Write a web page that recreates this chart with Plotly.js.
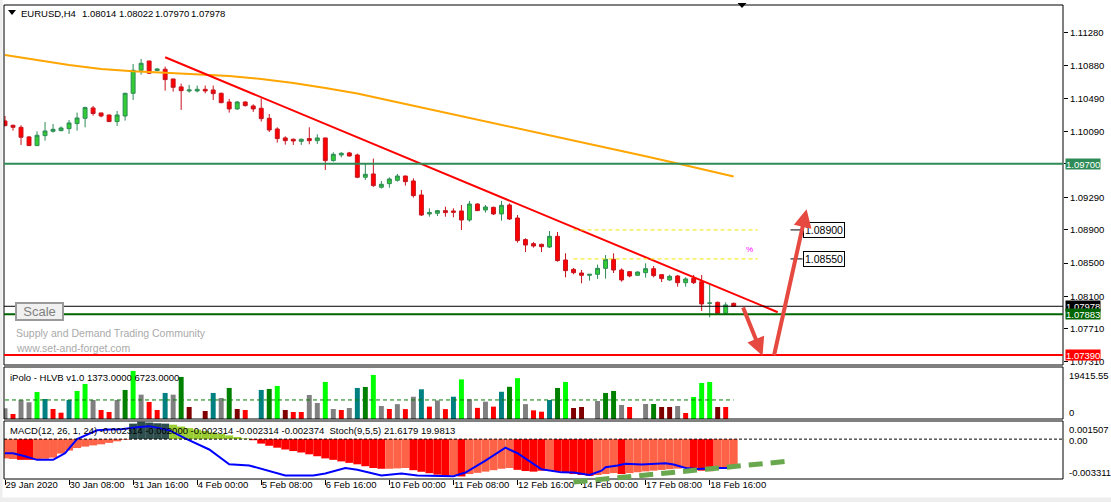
<!DOCTYPE html>
<html><head><meta charset="utf-8">
<script src="https://cdn.plot.ly/plotly-3.0.1.min.js"></script>
<style>html,body{margin:0;padding:0;background:#fff;overflow:hidden}#chart{width:1111px;height:502px}</style>
</head><body><div id="chart"></div>
<script>
// ---------- DATA ----------
const tickIdx = [0,8,16,24,32,40,48,56,64,72,80,88];
const tickLabels = ['29 Jan 2020','30 Jan 08:00','31 Jan 16:00','4 Feb 00:00','5 Feb 08:00','6 Feb 16:00','10 Feb 00:00','11 Feb 08:00','12 Feb 16:00','14 Feb 00:00','17 Feb 08:00','18 Feb 16:00'];
const priceTicks = [1.11280,1.10880,1.10490,1.10090,1.09700,1.09290,1.08900,1.08500,1.08100,1.07710,1.07310];
const symbolName = 'EURUSD,H4';
const lastOHLC = ['1.08014','1.08022','1.07970','1.07978'];

const open = [1.10216,1.10164,1.10139,1.10023,1.09918,1.10039,1.10091,1.10099,1.10123,1.10184,
1.10248,1.10373,1.10313,1.10288,1.10208,1.10276,1.10550,1.10828,1.10940,1.10824,
1.10840,1.10723,1.10627,1.10578,1.10578,1.10598,1.10590,1.10550,1.10445,1.10361,
1.10445,1.10397,1.10369,1.10248,1.10119,1.10011,1.09995,1.09970,1.10003,1.09978,
1.10011,1.09737,1.09805,1.09830,1.09805,1.09536,1.09576,1.09415,1.09459,1.09499,
1.09551,1.09491,1.09322,1.09093,1.09101,1.09133,1.09129,1.09129,1.09020,1.09213,
1.09141,1.09173,1.09093,1.09201,1.09044,1.08783,1.08734,1.08726,1.08694,1.08823,
1.08537,1.08424,1.08380,1.08352,1.08364,1.08436,1.08545,1.08416,1.08396,1.08352,
1.08384,1.08432,1.08360,1.08296,1.08344,1.08263,1.08316,1.08275,1.08014,1.08026,
1.07893,1.08014];
const high = [1.10276,1.10170,1.10164,1.10035,1.10091,1.10204,1.10180,1.10150,1.10228,1.10317,
1.10389,1.10397,1.10313,1.10290,1.10337,1.10555,1.10904,1.10965,1.10940,1.10852,
1.10872,1.10723,1.10667,1.10651,1.10643,1.10643,1.10643,1.10558,1.10482,1.10457,
1.10453,1.10417,1.10490,1.10300,1.10139,1.10031,1.10003,1.10003,1.10139,1.10055,
1.10011,1.09838,1.09838,1.09842,1.09822,1.09705,1.09761,1.09491,1.09535,1.09576,
1.09555,1.09523,1.09382,1.09161,1.09141,1.09181,1.09161,1.09201,1.09250,1.09221,
1.09201,1.09181,1.09250,1.09221,1.09080,1.08799,1.08754,1.08734,1.08887,1.08875,
1.08618,1.08441,1.08416,1.08364,1.08481,1.08597,1.08618,1.08436,1.08404,1.08400,
1.08497,1.08465,1.08360,1.08360,1.08356,1.08328,1.08356,1.08356,1.08235,1.08034,
1.08026,1.08022];
const low = [1.10150,1.10099,1.09926,1.09915,1.09915,1.09978,1.10075,1.10091,1.10059,1.10099,
1.10139,1.10280,1.10260,1.10205,1.10156,1.10220,1.10470,1.10775,1.10783,1.10820,
1.10582,1.10570,1.10349,1.10558,1.10562,1.10550,1.10470,1.10429,1.10317,1.10349,
1.10389,1.10325,1.10208,1.10083,1.09954,1.09930,1.09926,1.09926,1.09934,1.09938,
1.09624,1.09725,1.09777,1.09785,1.09524,1.09504,1.09420,1.09400,1.09410,1.09483,
1.09435,1.09290,1.09068,1.09060,1.09068,1.09060,1.09052,1.08899,1.09000,1.09129,
1.09109,1.09080,1.09012,1.09020,1.08746,1.08634,1.08686,1.08634,1.08682,1.08517,
1.08328,1.08364,1.08255,1.08288,1.08308,1.08312,1.08380,1.08275,1.08328,1.08348,
1.08324,1.08328,1.08271,1.08283,1.08215,1.08215,1.08247,1.07921,1.07845,1.07893,
1.07893,1.07970];
const close = [1.10160,1.10139,1.10019,1.09918,1.10043,1.10095,1.10115,1.10131,1.10192,1.10252,
1.10377,1.10305,1.10276,1.10208,1.10288,1.10550,1.10828,1.10912,1.10792,1.10844,
1.10715,1.10622,1.10582,1.10590,1.10598,1.10578,1.10546,1.10437,1.10361,1.10445,
1.10401,1.10361,1.10244,1.10107,1.10003,1.09978,1.09974,1.09995,1.09978,1.10011,
1.09737,1.09813,1.09826,1.09793,1.09536,1.09572,1.09435,1.09451,1.09515,1.09551,
1.09483,1.09314,1.09080,1.09109,1.09133,1.09109,1.09113,1.09020,1.09213,1.09133,
1.09177,1.09093,1.09197,1.09032,1.08771,1.08718,1.08706,1.08698,1.08823,1.08529,
1.08408,1.08384,1.08352,1.08364,1.08436,1.08545,1.08416,1.08296,1.08344,1.08392,
1.08432,1.08348,1.08312,1.08340,1.08263,1.08308,1.08263,1.08006,1.08018,1.07893,
1.07994,1.07978];

const maIdx = [0,4,8,12,16,20,24,28,32,36,40,44,48,52,56,60,64,68,72,76,80,84,88,91];
const maVal = [1.11012,1.10952,1.10892,1.10843,1.10816,1.10799,1.10783,1.10759,1.10723,1.10674,1.10614,1.10548,1.10463,1.10379,1.10294,1.10216,1.10131,1.10047,1.09962,1.09874,1.09789,1.09702,1.09612,1.09545];

const trendIdx = [20, 96.5];
const trendVal = [1.10985, 1.07906];

const levelPrices = [1.09700, 1.07978, 1.07883, 1.07390];
const levelLabels = ['1.09700','1.07978','1.07883','1.07390'];
const zonePrices = [1.08900, 1.08550];
const zoneLabels = ['1.08900','1.08550'];
const zoneStartIdx = 71, zoneEndIdx = 94;

const volume = [4330,2020,7690,6760,10920,8090,4050,2550,7690,11330,
14160,7690,3640,2830,7690,11730,19415,9830,6880,3640,
10520,9830,16990,4850,0,3240,10520,8490,12540,4050,
3640,0,11730,12140,13350,3640,2830,2830,9710,6470,
14970,4050,3640,4450,12540,12940,17800,5260,4050,6000,
4000,9000,12000,5000,7500,4000,9000,16000,8000,4500,
7000,5000,11000,13000,16500,6000,3500,2950,7690,12540,
14970,4450,4850,0,7280,10520,11330,5660,4850,0,
6070,6070,4850,4850,5260,2430,8900,14560,14970,4850,
4850,0];
const volClass = ['g','r','g','g','L','t','r','r','t','L',
'L','g','r','r','g','G','L','g','r','r',
't','g','G','m','x','m','t','g','G','m',
'r','x','t','G','L','m','r','r','g','g',
'L','g','r','g','t','G','L','g','r','g',
'r','g','t','r','g','r','t','L','g','r',
'g','r','t','G','L','g','r','r','t','G',
'L','m','m','x','g','G','G','g','r','x',
'g','G','m','m','g','r','L','L','L','m',
'r','x'];
const volAverage = 7690;

const macdHist = [-0.00160,-0.00165,-0.00172,-0.00172,-0.00168,-0.00163,-0.00154,-0.00120,-0.00095,-0.00074,
-0.00062,-0.00052,-0.00043,-0.00031,-0.00018,-0.00006,0.00129,0.00145,0.00138,0.00132,
0.00129,0.00120,0.00105,0.00092,0.00080,0.00068,0.00055,0.00043,0.00031,0.00018,
0.00006,-0.00009,-0.00037,-0.00055,-0.00071,-0.00086,-0.00099,-0.00111,-0.00126,-0.00142,
-0.00160,-0.00172,-0.00185,-0.00197,-0.00209,-0.00225,-0.00240,-0.00246,-0.00246,-0.00243,
-0.00240,-0.00258,-0.00271,-0.00283,-0.00295,-0.00305,-0.00300,-0.00310,-0.00290,-0.00280,
-0.00270,-0.00258,-0.00246,-0.00240,-0.00255,-0.00265,-0.00270,-0.00262,-0.00262,-0.00270,
-0.00280,-0.00290,-0.00298,-0.00305,-0.00298,-0.00290,-0.00282,-0.00290,-0.00282,-0.00275,
-0.00268,-0.00262,-0.00256,-0.00250,-0.00245,-0.00240,-0.00250,-0.00262,-0.00266,-0.00240,
-0.00235,-0.00231];
const macdClass = ['T','T','R','R','T','T','T','T','T','T',
'T','T','T','T','T','T','S','S','S','S',
'S','Y','Y','Y','Y','Y','Y','Y','Y','Y',
'Y','R','R','R','R','R','R','R','R','R',
'R','R','R','R','R','R','R','R','T','T',
'T','R','R','R','R','R','T','R','T','T',
'T','T','T','T','R','R','R','R','T','R',
'R','R','R','R','T','T','T','R','T','T',
'T','T','T','T','T','T','R','R','R','T',
'T','T'];
const blueIdx = [0,1,2.5,4,6,7.5,9,11.5,13,14.5,16.5,18,20.5,22.5,25.5,28,30.5,33.5,35,38.5,40,42.5,44,47,49.5,51.5,56,57.5,60,62.5,64,67,69.5,71,73,74.5,75,76.5,77.5,79.5,81,82.5,83.5,85,86.5,87.5,89,90,91];
const blueVal = [-0.00117,-0.00117,-0.00142,-0.00172,-0.00172,-0.00117,0,0.00074,0.00080,0.00083,0.00098,0.00108,0.00074,0.00006,-0.00086,-0.00209,-0.00219,-0.00271,-0.00302,-0.00302,-0.00286,-0.00240,-0.00255,-0.00302,-0.00286,-0.00302,-0.00308,-0.00277,-0.00179,-0.00071,-0.00117,-0.00250,-0.00276,-0.00277,-0.00297,-0.00262,-0.00234,-0.00219,-0.00205,-0.00211,-0.00205,-0.00200,-0.00211,-0.00239,-0.00248,-0.00242,-0.00239,-0.00239,-0.00234];

// ---------- LAYOUT HELPERS ----------
const L0 = 4, R0 = 1063, T0 = 5, B0 = 479;
const pxX = x => (x - L0) / (R0 - L0);
const pxY = y => (B0 - y) / (B0 - T0);
const FONT = "'Liberation Sans', Arial, sans-serif";
const idx = open.map((_, i) => i);

const volColors = {g:'#808080', r:'#ff0000', L:'#00ff00', G:'#008000', t:'#008080', m:'#800000', x:'rgba(0,0,0,0)'};
const macdColors = {T:'#ff6347', R:'#ff0000', S:'#2f4f4f', Y:'#9acd32'};

const traces = [
  {type:'candlestick', x: idx, open, high, low, close, xaxis:'x', yaxis:'y',
   increasing:{line:{color:'#2e8b57', width:1}, fillcolor:'#32cd32'},
   decreasing:{line:{color:'#c8141e', width:1}, fillcolor:'#ff0000'},
   whiskerwidth:0, hoverinfo:'skip'},
  {type:'scatter', mode:'lines', x: maIdx, y: maVal, xaxis:'x', yaxis:'y',
   line:{color:'#ffa500', width:2}, hoverinfo:'skip'},
  {type:'scatter', mode:'lines', x: trendIdx, y: trendVal, xaxis:'x', yaxis:'y',
   line:{color:'#ff0000', width:2}, hoverinfo:'skip'},
  {type:'bar', x: idx, y: volume, xaxis:'x', yaxis:'y2', width:0.62,
   marker:{color: volClass.map(c => volColors[c]), line:{width:0}}, hoverinfo:'skip'},
  {type:'scatter', mode:'lines', x:[idx[0], idx[idx.length-1]], y:[volAverage, volAverage], xaxis:'x', yaxis:'y2',
   line:{color:'#008000', width:1, dash:'4px,3px'}, hoverinfo:'skip'},
  {type:'bar', x: idx, y: macdHist, xaxis:'x', yaxis:'y3', width:1.0,
   marker:{color: macdClass.map(c => macdColors[c]), line:{width:0}}, hoverinfo:'skip'},
  {type:'scatter', mode:'lines', x: blueIdx, y: blueVal, xaxis:'x', yaxis:'y3',
   line:{color:'#0000ff', width:2}, hoverinfo:'skip'}
];

const levelStyles = [
  {color:'#2e8b57', width:2, bg:'#2e8b57'},
  {color:'#000000', width:1, bg:'#000000'},
  {color:'#006400', width:2, bg:'#006400'},
  {color:'#ff0000', width:2, bg:'#ff0000'}
];

const shapes = [];
shapes.push({type:'rect', xref:'paper', yref:'paper', x0:pxX(0), x1:pxX(1111), y0:pxY(502), y1:pxY(497.5),
  fillcolor:'#eeeeee', line:{width:0}, layer:'below'});
shapes.push({type:'rect', xref:'paper', yref:'paper', x0:pxX(0), x1:pxX(2.5), y0:pxY(502), y1:pxY(0),
  fillcolor:'#eeeeee', line:{width:0}, layer:'below'});
[[T0,365],[367,419],[421,B0]].forEach(([a,b]) => shapes.push({type:'rect', xref:'paper', yref:'paper',
  x0:0, x1:1, y0:pxY(b), y1:pxY(a), line:{color:'#000', width:1}, fillcolor:'rgba(0,0,0,0)', layer:'above'}));
levelPrices.forEach((p,i) => shapes.push({type:'line', xref:'paper', yref:'y', x0:0, x1:1, y0:p, y1:p,
  line:{color:levelStyles[i].color, width:levelStyles[i].width}}));
zonePrices.forEach(p => {
  shapes.push({type:'line', xref:'x', yref:'y', x0:zoneStartIdx, x1:zoneEndIdx, y0:p, y1:p,
    line:{color:'#f2e600', width:1, dash:'4px,3px'}});
  shapes.push({type:'line', xref:'x', yref:'y', x0:98.1, x1:99.6, y0:p, y1:p, line:{color:'#000', width:1}});
});
shapes.push({type:'line', xref:'paper', yref:'y3', x0:0, x1:1, y0:0, y1:0, line:{color:'#000', width:1, dash:'3px,2px'}});
shapes.push({type:'line', xref:'x', yref:'paper', x0:71, x1:98.1, y0:pxY(482), y1:pxY(461),
  line:{color:'#6aa84f', width:5, dash:'14px,8px'}, layer:'above'});
shapes.push({type:'path', xref:'paper', yref:'paper',
  path:`M ${pxX(737.5)} ${pxY(3)} L ${pxX(746.5)} ${pxY(3)} L ${pxX(742)} ${pxY(8)} Z`,
  fillcolor:'#000', line:{width:0}});
shapes.push({type:'path', xref:'paper', yref:'paper',
  path:`M ${pxX(8)} ${pxY(10)} L ${pxX(16)} ${pxY(10)} L ${pxX(12)} ${pxY(15)} Z`,
  fillcolor:'#000', line:{width:0}});

const ann = [];
const txt = (x, y, text, size, color, extra) => Object.assign({xref:'paper', yref:'paper', x:pxX(x), y:pxY(y),
  xanchor:'left', yanchor:'middle', text, showarrow:false, font:{family:FONT, size, color}}, extra||{});
// header pieces (MT4 places them at fixed positions)
ann.push(txt(20, 13, symbolName, 9.5, '#000', {borderpad:0}));
const ohlcX = [80.5, 117.5, 154, 189.5];
lastOHLC.forEach((s,i) => ann.push(txt(ohlcX[i], 13, s, 9.5, '#000', {borderpad:0})));
ann.push(txt(8, 377, 'iPolo - HLVB v1.0 1373.0000 6723.0000', 9.5, '#000'));
ann.push(txt(8, 430, 'MACD(12, 26, 1, 24) -0.002314 -0.002000 -0.002314 -0.002314 -0.002374&nbsp;&nbsp;Stoch(9,5,5) 21.6179 19.9813', 9.5, '#000'));
ann.push(txt(14, 333, 'Supply and Demand Trading Community', 10.5, '#aaaaaa'));
ann.push(txt(14, 348, 'www.set-and-forget.com', 10.5, '#aaaaaa'));
ann.push(txt(15, 311.5, 'Scale', 13, '#808080', {bgcolor:'#f0f0f0', bordercolor:'#9a9a9a', borderwidth:2, borderpad:0, width:45, height:15}));
ann.push(txt(1067, 375, '19415.55', 9.5, '#000'));
ann.push(txt(1067, 412, '0', 9.5, '#000'));
ann.push(txt(1067, 429, '0.001507', 9.5, '#000'));
ann.push(txt(1067, 440, '0.00', 9.5, '#000'));
ann.push(txt(1067, 472, '-0.003311', 9.5, '#000'));
levelPrices.forEach((p,i) => ann.push({xref:'paper', yref:'y', x:1, y:p, xanchor:'left', yanchor:'middle', xshift:2,
  text:levelLabels[i], showarrow:false, bgcolor:levelStyles[i].bg, borderpad:0,
  font:{family:FONT, size:9.5, color:'#fff'}, height:10}));
zonePrices.forEach((p,i) => ann.push({xref:'x', yref:'y', x:99.6, y:p, xanchor:'left', yanchor:'middle',
  text:zoneLabels[i], showarrow:false, bgcolor:'#fff', bordercolor:'#000', borderwidth:1, borderpad:1,
  font:{family:FONT, size:10.5, color:'#000'}}));
ann.push({xref:'x', yref:'y', x:93, y:1.08658, text:'%', showarrow:false, font:{family:FONT, size:8, color:'#ff00ff'}});
ann.push({xref:'x', yref:'y', axref:'x', ayref:'y', x:94.6, y:1.07380, ax:92.1, ay:1.07982, text:'', showarrow:true,
  arrowhead:2, arrowsize:0.9, arrowwidth:4, arrowcolor:'#e5493f', standoff:0});
ann.push({xref:'x', yref:'y', axref:'x', ayref:'y', x:100.1, y:1.09150, ax:96.0, ay:1.07369, text:'', showarrow:true,
  arrowhead:2, arrowsize:0.9, arrowwidth:4, arrowcolor:'#e5493f', standoff:0});

const layout = {
  width:1111, height:502, margin:{l:L0, r:1111-R0, t:T0, b:502-B0, pad:0},
  paper_bgcolor:'#fff', plot_bgcolor:'#fff', showlegend:false, hovermode:false, dragmode:false,
  barmode:'overlay',
  xaxis:{domain:[0,1], anchor:'y3', range:[-0.125, 132.125], tickvals:tickIdx, ticktext:tickLabels,
    ticks:'outside', ticklen:5, tickcolor:'#000', tickwidth:1, ticklabelposition:'outside right',
    tickangle:0, ticklabelstandoff:-3,
    tickfont:{family:FONT, size:9.5, color:'#000'}, showgrid:false, zeroline:false, showline:false,
    rangeslider:{visible:false}, fixedrange:true},
  yaxis:{domain:[pxY(365), 1], anchor:'x', side:'right', range:[1.07269, 1.11616], tickvals:priceTicks,
    ticktext: priceTicks.map(v => levelPrices.includes(v) ? '' : v.toFixed(5)),
    ticks:'outside', ticklen:4, tickcolor:'#000', tickfont:{family:FONT, size:9.5, color:'#000'},
    showgrid:false, zeroline:false, showline:false, fixedrange:true},
  yaxis2:{domain:[pxY(419), pxY(367)], anchor:'x', side:'right', range:[0, 21000], showticklabels:false,
    ticks:'', showgrid:false, zeroline:false, showline:false, fixedrange:true},
  yaxis3:{domain:[0, pxY(421)], anchor:'x', side:'right', range:[-0.003311, 0.001507], showticklabels:false,
    ticks:'', showgrid:false, zeroline:false, showline:false, fixedrange:true},
  shapes, annotations: ann
};

Plotly.newPlot('chart', traces, layout, {staticPlot:true, displayModeBar:false});
</script></body></html>
